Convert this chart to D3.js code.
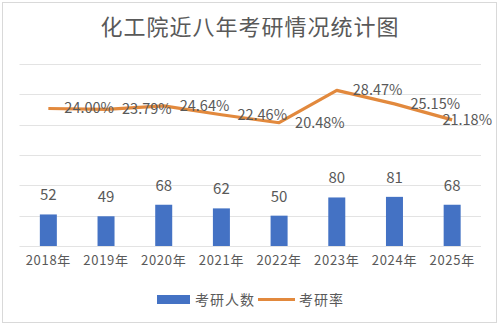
<!DOCTYPE html>
<html><head><meta charset="utf-8">
<script src="https://cdn.jsdelivr.net/npm/d3@7"></script>
<style>
html,body{margin:0;padding:0;background:#fff;}
svg{display:block;}
text{font-family:"Noto Sans CJK SC","Noto Sans",sans-serif;fill:#595959;}
</style></head>
<body>
<script>
const title = "化工院近八年考研情况统计图";
const years = ["2018年","2019年","2020年","2021年","2022年","2023年","2024年","2025年"];
const counts = [52,49,68,62,50,80,81,68];
const rates = [0.2400,0.2379,0.2464,0.2246,0.2048,0.2847,0.2515,0.2118];
const rateLabels = ["24.00%","23.79%","24.64%","22.46%","20.48%","28.47%","25.15%","21.18%"];
const seriesNames = ["考研人数","考研率"];
const countTicks = [0,50,100,150,200,250,300];

(function(){
const W=500,H=325;
const svg=d3.select("body").append("svg").attr("width",W).attr("height",H);
svg.append("rect").attr("x",2.5).attr("y",2.5).attr("width",494).attr("height",320)
  .attr("fill","#fff").attr("stroke","#d9d9d9");

const pL=19.5,pR=481,pT=64,pB=246;
const xc=d3.scaleBand().domain(years).range([pL,pR]);
const y=d3.scaleLinear().domain([0,300]).range([pB,pT]);
const y2=d3.scaleLinear().domain([-0.10,0.35]).range([pB,pT]);

// title
svg.append("text").attr("x",250).attr("y",35).attr("text-anchor","middle")
  .attr("font-size",22).attr("letter-spacing",1).text(title);

// gridlines
svg.append("g").selectAll("line").data(countTicks).join("line")
  .attr("x1",pL).attr("x2",pR)
  .attr("y1",d=>Math.round(y(d))+0.5).attr("y2",d=>Math.round(y(d))+0.5)
  .attr("stroke","#e3e3e3").attr("stroke-width",1);

// x axis labels
const xAxis=d3.axisBottom(xc).tickSize(0).tickPadding(10);
const gx=svg.append("g").attr("transform",`translate(0,${pB})`).call(xAxis);
gx.select(".domain").remove();
gx.selectAll("text").attr("font-size",13).attr("letter-spacing",0.7)
  .style("font-family",'"Noto Sans CJK SC",sans-serif').attr("fill","#595959");

// bars
const bw=17;
const cx=i=>xc(years[i])+xc.bandwidth()/2;
svg.append("g").selectAll("rect").data(counts).join("rect")
  .attr("x",(d,i)=>cx(i)-bw/2)
  .attr("width",bw)
  .attr("y",d=>y(d)).attr("height",d=>pB-y(d))
  .attr("fill","#4472C4");

svg.append("g").selectAll("text").data(counts).join("text")
  .attr("x",(d,i)=>cx(i))
  .attr("y",d=>y(d)-14)
  .attr("text-anchor","middle").attr("font-size",15).text(d=>d);

// line
const line=d3.line().x((d,i)=>cx(i)).y(d=>y2(d));
svg.append("path").datum(rates).attr("d",line).attr("fill","none")
  .attr("stroke","#E2893D").attr("stroke-width",3.2).attr("stroke-linejoin","round");

const lbl=svg.append("g").selectAll("text").data(rates).join("text")
  .attr("x",(d,i)=>cx(i)+16)
  .attr("y",d=>y2(d)+5)
  .attr("font-size",14.5).text((d,i)=>rateLabels[i]);
lbl.each(function(d,i){
  const w=this.getComputedTextLength();
  const xx=Math.min(cx(i)+16,492-w);
  d3.select(this).attr("x",xx);
});

// legend
const lg=svg.append("g");
lg.append("rect").attr("x",157).attr("y",295).attr("width",33).attr("height",9).attr("fill","#4472C4");
lg.append("text").attr("x",195).attr("y",305).attr("font-size",14).attr("letter-spacing",1).text(seriesNames[0]);
lg.append("line").attr("x1",258).attr("x2",295).attr("y1",299.5).attr("y2",299.5)
  .attr("stroke","#E2893D").attr("stroke-width",3.2);
lg.append("text").attr("x",299).attr("y",305).attr("font-size",14).attr("letter-spacing",1).text(seriesNames[1]);
})();
</script>
</body></html>
